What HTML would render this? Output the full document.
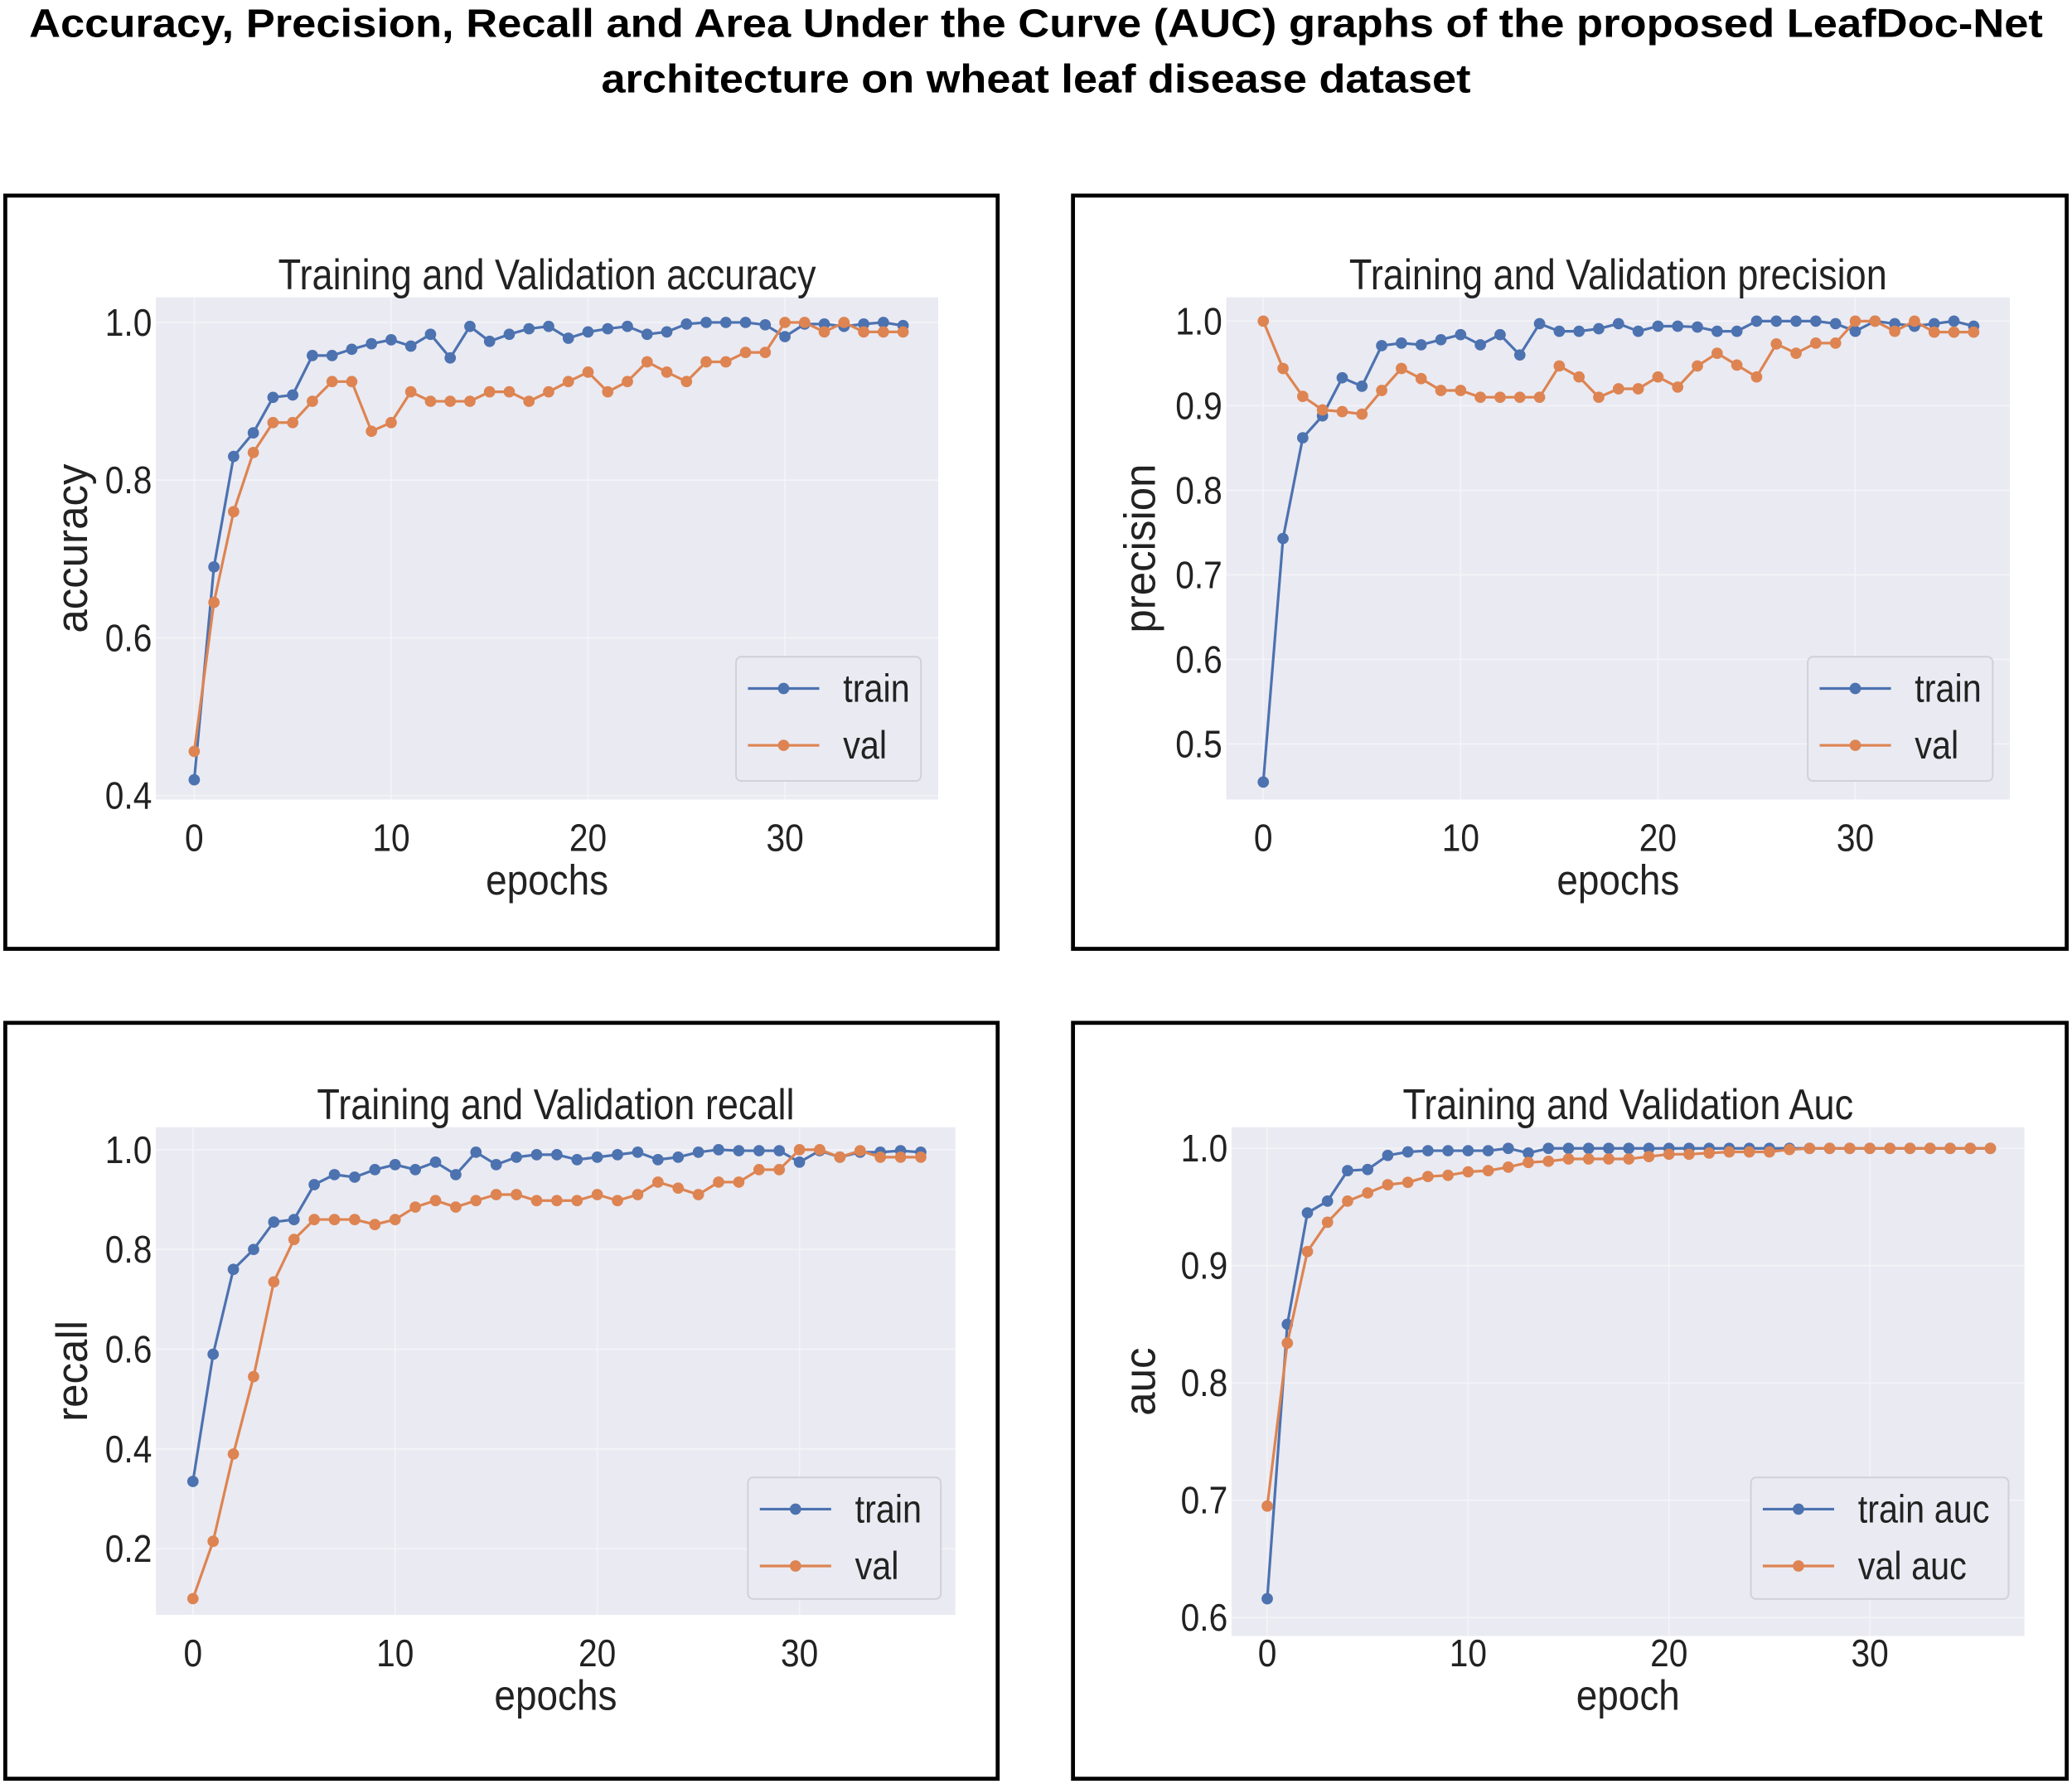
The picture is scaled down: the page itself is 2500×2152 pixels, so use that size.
<!DOCTYPE html>
<html><head><meta charset="utf-8">
<style>
html,body{margin:0;padding:0;background:#fff;}
svg{display:block;}
text{font-family:"Liberation Sans",Arial,sans-serif;fill:#222;}
</style></head>
<body>
<svg id="fig" width="2500" height="2152" viewBox="0 0 1568 1350" preserveAspectRatio="none" xmlns="http://www.w3.org/2000/svg">
<text x="784" y="28" text-anchor="middle" font-size="30" font-weight="bold" textLength="1524" lengthAdjust="spacingAndGlyphs" style="fill:#000">Accuracy, Precision, Recall and Area Under the Curve (AUC) graphs of the proposed LeafDoc-Net</text>
<text x="784" y="70" text-anchor="middle" font-size="30" font-weight="bold" textLength="658" lengthAdjust="spacingAndGlyphs" style="fill:#000">architecture on wheat leaf disease dataset</text>
</svg>
<script>
const epochs = Array.from({length:37},(_,i)=>i);
const accTrain=[0.42,0.69,0.83,0.86,0.905,0.908,0.958,0.958,0.966,0.973,0.978,0.97,0.985,0.955,0.995,0.976,0.985,0.992,0.995,0.98,0.988,0.992,0.995,0.985,0.988,0.998,1.0,1.0,1.0,0.997,0.982,0.998,0.998,0.995,0.998,1.0,0.996];
const accVal=[0.456,0.645,0.76,0.835,0.873,0.873,0.9,0.925,0.925,0.862,0.873,0.912,0.9,0.9,0.9,0.912,0.912,0.9,0.912,0.925,0.937,0.912,0.925,0.95,0.937,0.925,0.95,0.95,0.962,0.962,1.0,1.0,0.988,1.0,0.988,0.988,0.988];
const precTrain=[0.455,0.743,0.862,0.888,0.933,0.923,0.971,0.974,0.972,0.978,0.984,0.972,0.984,0.96,0.997,0.988,0.988,0.991,0.997,0.988,0.994,0.994,0.993,0.988,0.988,1.0,1.0,1.0,1.0,0.997,0.988,1.0,0.997,0.994,0.997,1.0,0.994];
const precVal=[1.0,0.944,0.911,0.895,0.893,0.89,0.918,0.944,0.932,0.918,0.918,0.91,0.91,0.91,0.91,0.947,0.934,0.91,0.92,0.92,0.934,0.922,0.947,0.962,0.948,0.934,0.973,0.962,0.974,0.974,1.0,1.0,0.988,1.0,0.987,0.987,0.987];
const recTrain=[0.335,0.59,0.76,0.8,0.855,0.86,0.93,0.95,0.945,0.96,0.97,0.96,0.975,0.95,0.995,0.97,0.985,0.99,0.99,0.98,0.985,0.99,0.995,0.98,0.985,0.995,1.0,0.998,0.998,0.998,0.975,0.998,0.985,0.995,0.995,0.998,0.995];
const recVal=[0.1,0.215,0.39,0.545,0.735,0.82,0.86,0.86,0.86,0.85,0.86,0.885,0.898,0.885,0.898,0.91,0.91,0.898,0.898,0.898,0.91,0.898,0.91,0.935,0.923,0.91,0.935,0.935,0.96,0.96,1.0,1.0,0.985,0.998,0.985,0.985,0.985];
const aucTrain=[0.616,0.85,0.945,0.955,0.981,0.982,0.994,0.997,0.998,0.998,0.998,0.998,1.0,0.996,1.0,1.0,1.0,1.0,1.0,1.0,1.0,1.0,1.0,1.0,1.0,1.0,1.0,1.0,1.0,1.0,1.0,1.0,1.0,1.0,1.0,1.0,1.0];
const aucVal=[0.695,0.834,0.912,0.937,0.955,0.962,0.969,0.971,0.976,0.977,0.98,0.981,0.984,0.988,0.989,0.991,0.991,0.991,0.991,0.993,0.995,0.995,0.996,0.997,0.997,0.997,0.999,1.0,1.0,1.0,1.0,1.0,1.0,1.0,1.0,1.0,1.0];
const xTicks=[0,10,20,30];
const accTicks=[0.4,0.6,0.8,1.0];
const precTicks=[0.5,0.6,0.7,0.8,0.9,1.0];
const recTicks=[0.2,0.4,0.6,0.8,1.0];
const aucTicks=[0.6,0.7,0.8,0.9,1.0];

const NS="http://www.w3.org/2000/svg";
const svg=document.getElementById('fig');
function el(tag,attrs,parent){const e=document.createElementNS(NS,tag);for(const k in attrs)e.setAttribute(k,attrs[k]);(parent||svg).appendChild(e);return e;}
function txt(s,x,y,size,anchor,parent,sx){const g=el('g',{transform:`translate(${x},${y}) scale(${sx||0.86},1)`},parent);const t=el('text',{x:0,y:0,'font-size':size,'text-anchor':anchor||'middle'},g);t.textContent=s;return t;}

const panels=[
 {key:'accuracy',box:[4,148,751,570],area:[118,225,710,605],tickY:644,xlabY:677,x0:147,x30:594,yA:[1.0,244],yB:[0.4,602],ticks:accTicks,tr:accTrain,va:accVal,title:'Training and Validation accuracy',ylab:'accuracy',xlab:'epochs',leg:[557,497,140,94],names:['train','val']},
 {key:'precision',box:[812,148,752,570],area:[928,225,1521,605],tickY:644,xlabY:677,x0:956,x30:1404,yA:[1.0,243],yB:[0.5,563],ticks:precTicks,tr:precTrain,va:precVal,title:'Training and Validation precision',ylab:'precision',xlab:'epochs',leg:[1368,497,140,94],names:['train','val']},
 {key:'recall',box:[4,774,751,572],area:[118,853,723,1222],tickY:1261,xlabY:1294,x0:146,x30:605,yA:[1.0,870],yB:[0.2,1172],ticks:recTicks,tr:recTrain,va:recVal,title:'Training and Validation recall',ylab:'recall',xlab:'epochs',leg:[566,1118,146,92],names:['train','val']},
 {key:'auc',box:[812,774,752,572],area:[932,853,1532,1238],tickY:1261,xlabY:1294,x0:959,x30:1415,yA:[1.0,869],yB:[0.6,1224],ticks:aucTicks,tr:aucTrain,va:aucVal,title:'Training and Validation Auc',ylab:'auc',xlab:'epoch',leg:[1325,1118,195,92],names:['train auc','val auc']}
];

panels.forEach(p=>{
 const g=el('g',{});
 
 
 const bx=el('rect',{x:p.box[0],y:p.box[1],width:p.box[2],height:p.box[3],fill:'#fff',stroke:'#000','stroke-width':3},g);
 
 
 const xs=v=>p.x0+(p.x30-p.x0)*v/30;
 const ys=v=>p.yB[1]+(p.yA[1]-p.yB[1])*(v-p.yB[0])/(p.yA[0]-p.yB[0]);
 const [ax0,ay0,ax1,ay1]=p.area;
 const bg=el('rect',{x:ax0,y:ay0,width:ax1-ax0,height:ay1-ay0,fill:'#eaeaf2'},g);
 
 
 xTicks.forEach(t=>{
  el('line',{x1:xs(t),x2:xs(t),y1:ay0,y2:ay1,stroke:'#f4f4f8','stroke-width':1},g);
  const l=txt(String(t),xs(t),p.tickY,29,'middle',g,0.88);
  
  
 });
 p.ticks.forEach(t=>{
  el('line',{x1:ax0,x2:ax1,y1:ys(t),y2:ys(t),stroke:'#f4f4f8','stroke-width':1},g);
  const l=txt(t.toFixed(1),ax0-3,ys(t)+10,29,'end',g,0.88);
  
  
 });
 const tt=txt(p.title,(ax0+ax1)/2,ay0-6,32.5,'middle',g,0.87);
 
 
 const xl=txt(p.xlab,(ax0+ax1)/2,p.xlabY,32,'middle',g,0.9);
 
 
 const yg=el('g',{transform:`translate(${p.box[0]+62},${(ay0+ay1)/2}) rotate(-90) scale(0.97,1)`},g);
 const yl=el('text',{x:0,y:0,'font-size':33,'text-anchor':'middle'},yg);
 yl.textContent=p.ylab;
 
 
 [[p.tr,'#4c72b0','train'],[p.va,'#dd8452','val']].forEach(([arr,c,nm])=>{
  const pts=arr.map((v,i)=>xs(epochs[i])+','+ys(v)).join(' ');
  const pl=el('polyline',{points:pts,fill:'none',stroke:c,'stroke-width':2},g);
  
  
  arr.forEach((v,i)=>{
   const m=el('circle',{cx:xs(epochs[i]),cy:ys(v),r:4.3,fill:c},g);
   
   
  });
 });
 const [lx,ly,lw,lh]=p.leg;
 const lg=el('g',{},g);
 
 
 el('rect',{x:lx,y:ly,width:lw,height:lh,rx:4,fill:'#eaeaf2',stroke:'#d0d0d8','stroke-width':1.2},lg);
 [['#4c72b0',p.names[0],ly+24],['#dd8452',p.names[1],ly+67]].forEach(([c,n,yy])=>{
  const e=el('g',{},lg);
  
  
  el('line',{x1:lx+9,x2:lx+63,y1:yy,y2:yy,stroke:c,'stroke-width':2},e);
  el('circle',{cx:lx+36,cy:yy,r:4.3,fill:c},e);
  txt(n,lx+81,yy+10,29.5,'start',e,0.88);
 });
});
</script>
</body></html>
